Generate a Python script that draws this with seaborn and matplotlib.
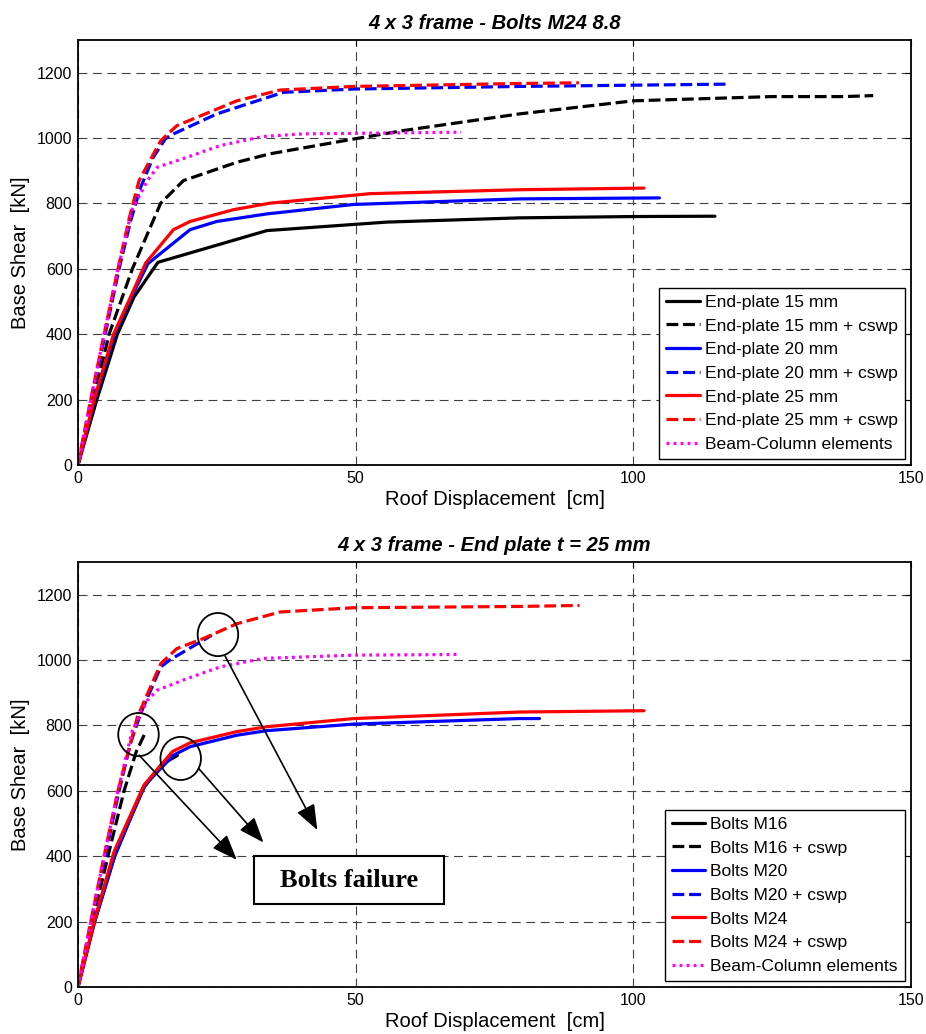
import numpy as np
import pandas as pd
import matplotlib
matplotlib.use("Agg")
import matplotlib.pyplot as plt
import seaborn as sns
from matplotlib.patches import Ellipse, Rectangle

# ---------------- data: top panel (Bolts M24 8.8) ----------------
top_title = "4 x 3 frame - Bolts M24 8.8"
top_labels = ["End-plate 15 mm", "End-plate 15 mm + cswp", "End-plate 20 mm",
              "End-plate 20 mm + cswp", "End-plate 25 mm", "End-plate 25 mm + cswp",
              "Beam-Column elements"]

ep15_x = [0, 3.4, 7.1, 10.1, 14.4, 34.0, 55.6, 79.5, 100, 114.7]
ep15_y = [0, 200, 400, 514, 620, 717, 743, 756, 760, 761]

ep15c_x = [0, 2.8, 5.6, 9.8, 14.9, 19.0, 28.6, 34.6, 49.6, 58.6, 79.5, 100, 125, 138, 143.2]
ep15c_y = [0, 200, 400, 600, 801, 870, 926, 952, 997, 1023, 1074, 1114, 1127, 1127, 1130]

ep20_x = [0, 3.0, 6.6, 9.5, 12.6, 20.2, 25.0, 34.0, 49.6, 79.5, 104.7]
ep20_y = [0, 200, 400, 509, 616, 720, 745, 768, 797, 814, 817]

ep20c_x = [0, 2.4, 4.9, 7.4, 9.5, 11.3, 13.5, 15.7, 16.6, 25.0, 37.0, 49.6, 79.5, 116.7]
ep20c_y = [0, 200, 400, 600, 748, 850, 940, 997, 1008, 1074, 1140, 1150, 1158, 1165]

ep25_x = [0, 2.9, 6.4, 9.2, 12.2, 17.2, 20.2, 28.0, 34.6, 52.6, 79.5, 101.9]
ep25_y = [0, 200, 400, 504, 618, 720, 745, 781, 801, 830, 842, 847]

ep25c_x = [0, 2.3, 4.7, 7.2, 9.3, 11.0, 14.9, 17.8, 28.6, 36.4, 49.6, 79.5, 90.2]
ep25c_y = [0, 200, 400, 600, 760, 870, 992, 1038, 1114, 1147, 1158, 1167, 1169]

bc_x = [0, 2.3, 4.7, 7.2, 9.7, 12.5, 14.3, 19.6, 25.6, 33.4, 40.6, 52.6, 69.0]
bc_y = [0, 200, 400, 600, 780, 870, 911, 941, 977, 1005, 1013, 1015, 1018]

# ---------------- data: bottom panel (End plate t = 25 mm) ----------------
bot_title = "4 x 3 frame - End plate t = 25 mm"
bot_labels = ["Bolts M16", "Bolts M16 + cswp", "Bolts M20", "Bolts M20 + cswp",
              "Bolts M24", "Bolts M24 + cswp", "Beam-Column elements"]

m16_x = [0, 3.0, 6.6, 9.3, 11.9, 15.0, 17.9]
m16_y = [0, 200, 400, 510, 610, 680, 708]

m16c_x = [0, 2.6, 5.4, 8.3, 10.5, 12.3]
m16c_y = [0, 200, 400, 600, 720, 784]

m20_x = [0, 3.0, 6.6, 9.3, 11.9, 17.2, 20.2, 28.6, 34.0, 49.6, 79.5, 83.1]
m20_y = [0, 200, 400, 510, 615, 709, 735, 770, 784, 804, 821, 821]

m20c_x = [0, 2.4, 4.9, 7.4, 9.5, 11.3, 14.9, 16.6, 24.1]
m20c_y = [0, 200, 400, 600, 748, 837, 979, 1001, 1076]

m24_x = [0, 2.9, 6.5, 11.9, 17.0, 20.2, 28.6, 34.0, 49.6, 79.5, 101.9]
m24_y = [0, 200, 414, 618, 720, 747, 781, 796, 821, 841, 845]

m24c_x = [0, 2.3, 4.7, 7.2, 10.7, 14.9, 17.8, 22.6, 28.6, 36.4, 49.6, 79.5, 90.3]
m24c_y = [0, 200, 400, 600, 826, 989, 1035, 1066, 1111, 1147, 1160, 1164, 1167]

bc2_x = [0, 2.3, 4.7, 7.2, 9.7, 12.5, 14.3, 19.6, 25.6, 33.4, 49.6, 68.7]
bc2_y = [0, 200, 400, 600, 780, 877, 908, 943, 979, 1005, 1015, 1017]

# failure annotations (bottom panel)
circle_x = [10.9, 18.5, 25.2]
circle_y = [772, 699, 1078]
arrow_start_x = [11.0, 21.7, 26.5]
arrow_start_y = [709, 669, 1012]
arrow_end_x = [28.6, 33.4, 43.1]
arrow_end_y = [389, 442, 480]
note_text = "Bolts failure"

x_ticks = [0, 50, 100, 150]
y_ticks = [0, 200, 400, 600, 800, 1000, 1200]

# ---------------- styling ----------------
sns.set_theme(style="white")
plt.rcParams["font.family"] = ["Liberation Sans", "DejaVu Sans"]
plt.rcParams["text.color"] = "black"
plt.rcParams["axes.labelcolor"] = "black"
plt.rcParams["xtick.color"] = "black"
plt.rcParams["ytick.color"] = "black"

colors = ["black", "black", "blue", "blue", "red", "red", "magenta"]
LW = 2.3
solid = "-"
dash = (0, (3.7, 1.5))
dot = (0, (0.9, 1.3))
styles = [solid, dash, solid, dash, solid, dash, dot]

fig = plt.figure(figsize=(9.26, 10.34), dpi=100)
ax1 = fig.add_axes([0.0842, 0.5503, 0.8996, 0.4110])
ax2 = fig.add_axes([0.0842, 0.0455, 0.8996, 0.4110])

top_series = [(ep15_x, ep15_y), (ep15c_x, ep15c_y), (ep20_x, ep20_y), (ep20c_x, ep20c_y),
              (ep25_x, ep25_y), (ep25c_x, ep25c_y), (bc_x, bc_y)]
bot_series = [(m16_x, m16_y), (m16c_x, m16c_y), (m20_x, m20_y), (m20c_x, m20c_y),
              (m24_x, m24_y), (m24c_x, m24c_y), (bc2_x, bc2_y)]


def draw(ax, series, labels, title):
    for (xs, ys), lab, c, ls in zip(series, labels, colors, styles):
        df = pd.DataFrame({"x": xs, "y": ys})
        sns.lineplot(data=df, x="x", y="y", ax=ax, color=c, linewidth=LW,
                     linestyle=ls, label=lab, estimator=None, sort=False)
    ax.set_xlim(0, 150)
    ax.set_ylim(0, 1300)
    ax.set_xticks(x_ticks)
    ax.set_yticks(y_ticks)
    ax.grid(True, color="0.25", linestyle=(0, (8, 5)), linewidth=0.8)
    ax.tick_params(direction="in", length=4, width=0.8, labelsize=11.5,
                   top=True, right=True, colors="black", labelcolor="black", pad=4)
    for s in ax.spines.values():
        s.set_color("black")
        s.set_linewidth(1.3)
    ax.set_xlabel("Roof Displacement  [cm]", fontsize=14.5, labelpad=3, color="black")
    ax.set_ylabel("Base Shear  [kN]", fontsize=14.5, labelpad=5, color="black")
    ax.set_title(title, fontsize=14.5, fontweight="bold", fontstyle="italic", pad=8,
                 color="black")
    leg = ax.legend(loc="lower right", fontsize=12.6, frameon=True, fancybox=False,
                    framealpha=1, edgecolor="black", borderaxespad=0.35,
                    handlelength=1.9, handletextpad=0.3, labelspacing=0.48,
                    borderpad=0.4, labelcolor="black")
    leg.get_frame().set_linewidth(1.0)


draw(ax1, top_series, top_labels, top_title)
draw(ax2, bot_series, bot_labels, bot_title)

# annotations on bottom panel
for cx, cy in zip(circle_x, circle_y):
    ax2.add_patch(Ellipse((cx, cy), width=7.3, height=132, fill=False,
                          edgecolor="black", linewidth=1.3, zorder=6))
for sx, sy, ex, ey in zip(arrow_start_x, arrow_start_y, arrow_end_x, arrow_end_y):
    ax2.annotate("", xy=(ex, ey), xytext=(sx, sy),
                 arrowprops=dict(arrowstyle="-|>,head_length=1.3,head_width=0.5",
                                 color="black", lw=1.2, shrinkA=0, shrinkB=0),
                 zorder=6)
ax2.add_patch(Rectangle((31.7, 254), 34.2, 147, fill=True, facecolor="white",
                        edgecolor="black", linewidth=1.5, zorder=6))
ax2.text(48.8, 327, note_text, ha="center", va="center", fontsize=19, color="black",
         fontweight="bold", family=["Liberation Serif", "DejaVu Serif"], zorder=7)

fig.savefig("out.png", dpi=100)
